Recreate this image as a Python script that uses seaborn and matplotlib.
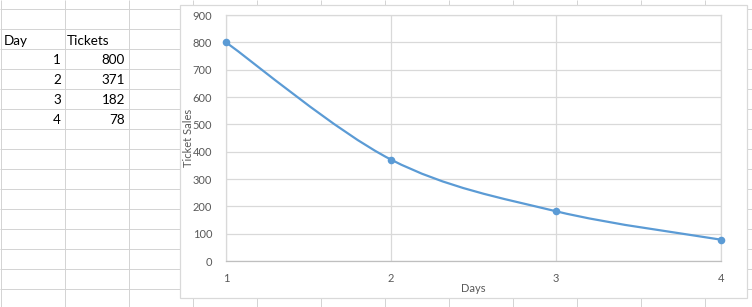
import matplotlib
matplotlib.use("Agg")
import numpy as np
import pandas as pd
import seaborn as sns
import matplotlib.pyplot as plt
from matplotlib.path import Path
from matplotlib.patches import PathPatch, Rectangle

# ---- data ----
days = [1, 2, 3, 4]
tickets = [800, 371, 182, 78]
col_headers = ["Day", "Tickets"]
y_ticks = [0, 100, 200, 300, 400, 500, 600, 700, 800, 900]
x_ticks = [1, 2, 3, 4]
x_label = "Days"
y_label = "Ticket Sales"

df = pd.DataFrame({"Day": days, "Tickets": tickets})

sns.set_theme(style="white")
plt.rcParams['font.family'] = ['Lato', 'DejaVu Sans']

W, H = 752, 307
fig = plt.figure(figsize=(W / 100, H / 100), dpi=100)
fig.patch.set_facecolor("white")

# ---- spreadsheet background ----
bg = fig.add_axes([0, 0, 1, 1])
bg.set_xlim(0, W)
bg.set_ylim(H, 0)
bg.axis("off")
cell_c = "#d4d4d4"
for x in range(0, W + 64, 64):
    bg.vlines(x + 0.5, 0, H, color=cell_c, lw=0.72, zorder=1)
for y in range(9, H + 20, 20):
    bg.hlines(y + 0.3, 0, W, color=cell_c, lw=0.72, zorder=1)

# table text
tfs = 9.7
bg.text(4, 41, col_headers[0], ha="left", va="center", fontsize=tfs, color="black", zorder=4)
bg.text(67, 41, col_headers[1], ha="left", va="center", fontsize=tfs, color="black", zorder=4)
for i, (d, t) in enumerate(zip(days, tickets)):
    yc = 60 + 20 * i
    bg.text(61, yc, str(d), ha="right", va="center", fontsize=tfs, color="black", zorder=4)
    bg.text(125, yc, str(t), ha="right", va="center", fontsize=tfs, color="black", zorder=4)

# chart area box
bg.add_patch(Rectangle((179.5, 5), 567, 293, facecolor="white", edgecolor="#d9d9d9",
                       lw=0.9, zorder=3))

# ---- plot area ----
L, R, T, B = 226, 721, 15, 261
ax = fig.add_axes([L / W, (H - B) / H, (R - L) / W, (B - T) / H])
ax.set_facecolor("white")

P = np.column_stack([df["Day"].to_numpy(float), df["Tickets"].to_numpy(float)])
n = len(P)
verts = [tuple(P[0])]
codes = [Path.MOVETO]
for i in range(n - 1):
    p_prev = P[i - 1] if i > 0 else P[i]
    p_next2 = P[i + 2] if i + 2 < n else P[i + 1]
    c1 = P[i] + (P[i + 1] - p_prev) / 6.0
    c2 = P[i + 1] - (p_next2 - P[i]) / 6.0
    verts += [tuple(c1), tuple(c2), tuple(P[i + 1])]
    codes += [Path.CURVE4] * 3
line_c = "#5B9BD5"
ax.add_patch(PathPatch(Path(verts, codes), fill=False, edgecolor=line_c, lw=1.6,
                       capstyle="round", joinstyle="round", zorder=4, clip_on=False))

sns.scatterplot(data=df, x="Day", y="Tickets", ax=ax, color=line_c, s=30,
                edgecolor=line_c, linewidth=0, zorder=5, clip_on=False, legend=False)

ax.set_xlim(1, 4)
ax.set_ylim(0, 900)
ax.set_xticks(x_ticks)
ax.set_yticks(y_ticks)
ax.set_xticklabels([str(v) for v in x_ticks])
ax.set_yticklabels([str(v) for v in y_ticks])
ax.grid(True, color="#d9d9d9", lw=0.9)
ax.set_axisbelow(True)
for s in ["top", "right", "left"]:
    ax.spines[s].set_visible(True)
    ax.spines[s].set_color("#d9d9d9")
    ax.spines[s].set_linewidth(0.9)
ax.spines["bottom"].set_color("#bfbfbf")
ax.spines["bottom"].set_linewidth(0.9)
fs = 8
ax.tick_params(axis="both", length=0, labelsize=fs, colors="#595959")
ax.tick_params(axis="y", pad=10)
ax.tick_params(axis="x", pad=9)

ax.set_xlabel(x_label, fontsize=fs, color="#595959")
ax.set_ylabel(y_label, fontsize=fs, color="#595959")
ax.xaxis.set_label_coords(0.5, (B - 289) / (B - T))
ax.xaxis.label.set_va("center")
ax.yaxis.set_label_coords((189 - L) / (R - L), 0.5)
ax.yaxis.label.set_va("center")

fig.savefig("out.png", dpi=100, facecolor="white")
